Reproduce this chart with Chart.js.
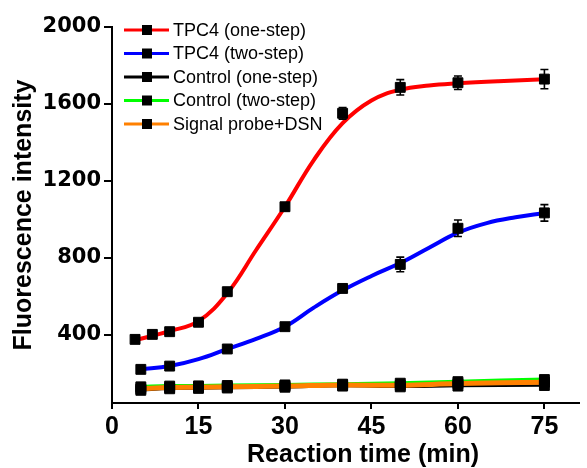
<!DOCTYPE html>
<html lang="en">
<head>
  <meta charset="UTF-8">
  <title>Fluorescence intensity vs reaction time</title>
  <script src="https://cdn.jsdelivr.net/npm/chart.js"></script>
  <style>
    html, body {
      margin: 0;
      padding: 0;
      background: #fff;
    }
    #wrap {
      width: 587px;
      height: 468px;
    }
  </style>
</head>
<body>
  <div id="wrap"><canvas id="chart" width="587" height="468"></canvas></div>

  <script>
    // values
    const xTicks = [0, 15, 30, 45, 60, 75];
    const yTicks = [400, 800, 1200, 1600, 2000];

    const timeOne = [4, 7, 10, 15, 20, 30, 40, 50, 60, 75];
    const tpc4One = [375, 401, 415, 464, 623, 1065, 1551, 1686, 1710, 1729];
    const tpc4OneErr = [8, 10, 10, 12, 15, 20, 30, 40, 35, 50];

    // fitted curves, read along the red and blue lines
    const fitTimeOne = [4, 10, 15, 20, 25, 30, 35, 40, 45, 50, 55, 60, 67, 75];
    const tpc4OneFit = [370, 418, 470, 615, 840, 1065, 1308, 1500, 1618, 1674, 1696, 1707, 1718, 1728];
    const fitTimeTwo = [5, 10, 15, 20, 25, 30, 35, 40, 45, 50, 55, 60, 65, 70, 75];
    const tpc4TwoFit = [219, 236, 272, 325, 378, 441, 540, 630, 705, 772, 852, 930, 980, 1010, 1032];

    const timeTwo = [5, 10, 20, 30, 40, 50, 60, 75];
    const tpc4Two = [219, 236, 325, 441, 640, 765, 953, 1033];
    const tpc4TwoErr = [8, 8, 10, 12, 15, 38, 43, 43];

    const timeCtrl = [5, 10, 15, 20, 30, 40, 50, 60, 75];
    const ctrlOne = [110, 118, 120, 122, 126, 132, 128, 132, 135];
    const ctrlTwo = [128, 132, 133, 135, 138, 142, 147, 155, 166];
    const probeDsn = [118, 124, 126, 128, 132, 138, 136, 145, 152];
    const ctrlErr = [8, 8, 6, 6, 8, 8, 14, 8, 10];

    const legendItems = [
      { label: 'TPC4 (one-step)', color: '#ff0000' },
      { label: 'TPC4 (two-step)', color: '#0000ff' },
      { label: 'Control (one-step)', color: '#000000' },
      { label: 'Control (two-step)', color: '#00ff00' },
      { label: 'Signal probe+DSN', color: '#ff8000' }
    ];

    const pts = (xs, ys) => xs.map((x, i) => ({ x: x, y: ys[i] }));

    function lineSet(xs, ys, color, width, order) {
      return {
        data: pts(xs, ys),
        borderColor: color,
        borderWidth: width,
        pointRadius: 0,
        tension: 0.4,
        fill: false,
        order: order
      };
    }

    function markerSet(xs, ys, errs) {
      return {
        data: pts(xs, ys),
        errors: errs,
        showLine: false,
        pointStyle: 'rect',
        pointRadius: 7,
        pointBackgroundColor: '#000',
        pointBorderColor: '#000',
        pointBorderWidth: 1,
        order: 0
      };
    }

    // vertical error bars with caps
    const errorBars = {
      id: 'errorBars',
      afterDatasetsDraw(chart) {
        const ctx = chart.ctx;
        const y = chart.scales.y;
        ctx.save();
        ctx.strokeStyle = '#000';
        ctx.lineWidth = 1.6;
        chart.data.datasets.forEach((ds, i) => {
          if (!ds.errors) return;
          const meta = chart.getDatasetMeta(i);
          meta.data.forEach((p, j) => {
            const v = ds.data[j].y;
            const top = y.getPixelForValue(v + ds.errors[j]);
            const bot = y.getPixelForValue(v - ds.errors[j]);
            ctx.beginPath();
            ctx.moveTo(p.x, top); ctx.lineTo(p.x, bot);
            ctx.moveTo(p.x - 4, top); ctx.lineTo(p.x + 4, top);
            ctx.moveTo(p.x - 4, bot); ctx.lineTo(p.x + 4, bot);
            ctx.stroke();
          });
        });
        ctx.restore();
      }
    };

    // legend inside the plot + x axis title
    const extras = {
      id: 'extras',
      afterDraw(chart) {
        const ctx = chart.ctx;
        ctx.save();
        ctx.font = '18px "Liberation Sans", Arial, sans-serif';
        ctx.textBaseline = 'middle';
        legendItems.forEach((it, i) => {
          const yy = 30 + i * 23.5;
          ctx.strokeStyle = it.color;
          ctx.lineWidth = 3;
          ctx.beginPath();
          ctx.moveTo(124, yy); ctx.lineTo(169, yy);
          ctx.stroke();
          ctx.fillStyle = '#000';
          ctx.fillRect(142, yy - 5, 10, 10);
          ctx.fillText(it.label, 173, yy + 1);
        });
        ctx.font = 'bold 25px "Liberation Sans", Arial, sans-serif';
        ctx.textAlign = 'center';
        ctx.textBaseline = 'alphabetic';
        ctx.fillText('Reaction time (min)', 363, 462);
        ctx.restore();
      }
    };

    new Chart(document.getElementById('chart'), {
      type: 'line',
      data: {
        datasets: [
          lineSet(fitTimeOne, tpc4OneFit, '#ff0000', 4, 5),
          lineSet(fitTimeTwo, tpc4TwoFit, '#0000ff', 4, 4),
          lineSet(timeCtrl, ctrlOne, '#000000', 2.5, 3),
          lineSet(timeCtrl, ctrlTwo, '#00ff00', 4, 2),
          lineSet(timeCtrl, probeDsn, '#ff8000', 5, 1),
          markerSet(timeOne, tpc4One, tpc4OneErr),
          markerSet(timeTwo, tpc4Two, tpc4TwoErr),
          markerSet(timeCtrl, ctrlOne, ctrlErr),
          markerSet(timeCtrl, ctrlTwo, ctrlErr),
          markerSet(timeCtrl, probeDsn, ctrlErr)
        ]
      },
      options: {
        responsive: false,
        animation: false,
        layout: { padding: { top: 27, right: 5, left: 0, bottom: 0 } },
        plugins: {
          legend: { display: false },
          tooltip: { enabled: false }
        },
        scales: {
          x: {
            type: 'linear',
            min: 0,
            max: 81,
            afterBuildTicks: s => { s.ticks = xTicks.map(v => ({ value: v })); },
            afterFit: s => { s.height = 65; },
            border: { display: true, color: '#000', width: 2 },
            grid: { drawOnChartArea: false, drawTicks: true, tickLength: 6, color: '#000', lineWidth: 2 },
            ticks: {
              color: '#000',
              padding: 3,
              maxRotation: 0,
              callback: v => String(v),
              font: { family: '"Liberation Sans", Arial, sans-serif', size: 25, weight: 'bold' }
            }
          },
          y: {
            min: 44,
            max: 2000,
            afterBuildTicks: s => { s.ticks = yTicks.map(v => ({ value: v })); },
            afterFit: s => { s.width = 112; },
            border: { display: true, color: '#000', width: 2 },
            grid: { drawOnChartArea: false, drawTicks: true, tickLength: 8, color: '#000', lineWidth: 2 },
            ticks: {
              color: '#000',
              padding: 3,
              callback: v => String(v),
              font: { family: '"DejaVu Sans", sans-serif', size: 21, weight: 'bold' }
            },
            title: {
              display: true,
              text: 'Fluorescence intensity',
              color: '#000',
              padding: { top: 9, bottom: 0 },
              font: { family: '"Liberation Sans", Arial, sans-serif', size: 25, weight: 'bold' }
            }
          }
        }
      },
      plugins: [errorBars, extras]
    });
  </script>
</body>
</html>
